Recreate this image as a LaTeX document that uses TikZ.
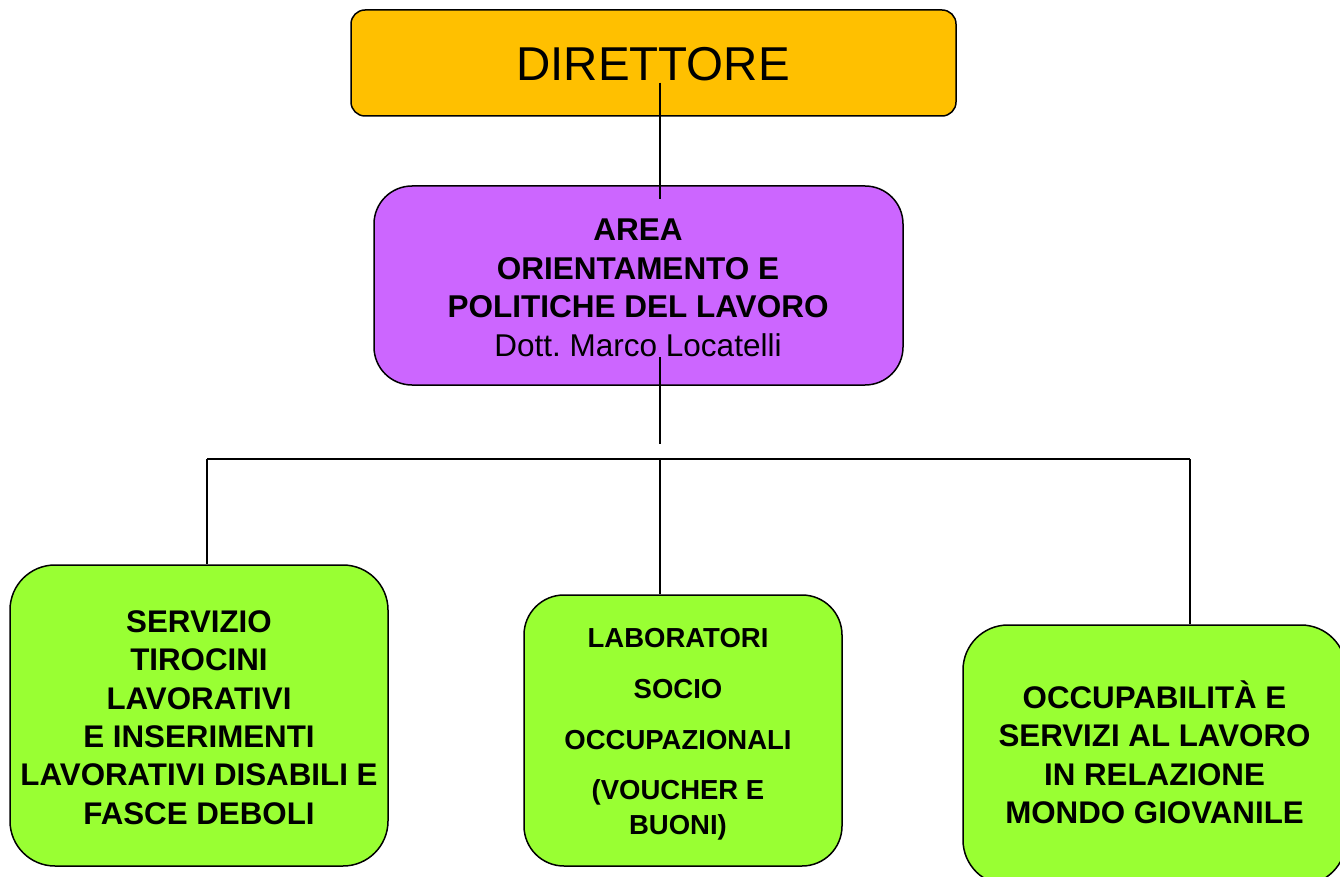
\documentclass[tikz,border=0pt]{standalone}
\usepackage{fontspec}
\setmainfont{Liberation Sans}
\definecolor{dirfill}{HTML}{FFC000}
\definecolor{areafill}{HTML}{CC66FF}
\definecolor{greenfill}{HTML}{99FF33}
\tikzset{
  orgbox/.style={draw=black, line width=1.5pt, inner sep=0pt},
  boxtext/.style={inner sep=0pt, align=center},
  conn/.style={draw=black, line width=1.5pt},
}
\frenchspacing
\begin{document}
\begin{tikzpicture}[x=1pt,y=-1pt]
\useasboundingbox (0,0) rectangle (1340,877);
% boxes
\node[orgbox, fill=dirfill, rounded corners=14pt, minimum width=605pt, minimum height=106pt] (dir) at (653.5,63) {};
\node[boxtext, font=\fontsize{47.5}{56}\selectfont] (dirtext) at (653,64) {DIRETTORE};
\node[orgbox, fill=areafill, rounded corners=38pt, minimum width=529pt, minimum height=199pt] (area) at (638.5,285.5) {};
\node[boxtext, font=\fontsize{31.5}{38.5}\selectfont] (areatext) at (638,288)
  {\textbf{AREA}\\\textbf{ORIENTAMENTO E}\\\textbf{POLITICHE DEL LAVORO}\\Dott. Marco Locatelli};
\node[orgbox, fill=greenfill, rounded corners=45pt, minimum width=378pt, minimum height=301pt] (left) at (199,715.5) {};
\node[boxtext, font=\bfseries\fontsize{31.3}{38.4}\selectfont] (lefttext) at (199,717.5)
  {SERVIZIO\\TIROCINI\\LAVORATIVI\\E INSERIMENTI\\LAVORATIVI DISABILI E\\FASCE DEBOLI};
\node[orgbox, fill=greenfill, rounded corners=40pt, minimum width=318pt, minimum height=271pt] (mid) at (683,730.5) {};
\node[boxtext, font=\bfseries\fontsize{27.5}{35}\selectfont] (midtext) at (678,734)
  {LABORATORI\\[16pt]SOCIO\\[16pt]OCCUPAZIONALI\\[15pt](VOUCHER E\\BUONI)};
\node[orgbox, fill=greenfill, rounded corners=45pt, minimum width=383pt, minimum height=260pt] (right) at (1154.5,755) {};
\node[boxtext, font=\bfseries\fontsize{31.3}{38.5}\selectfont] (righttext) at (1154.5,752.5)
  {OCCUPABILITÀ E\\SERVIZI AL LAVORO\\IN RELAZIONE\\MONDO GIOVANILE};
% connectors
\coordinate (gap) at (660,444);
\coordinate (busL) at (207,459);
\coordinate (busM) at (660,459);
\coordinate (busR) at (1190,459);
\draw[conn] ([xshift=6.5pt,yshift=34pt]dir.south) -- ([xshift=21.5pt,yshift=-14pt]area.north);
\draw[conn] ([xshift=21.5pt,yshift=29pt]area.south) -- (gap);
\draw[conn] (busL) -- (busR);
\draw[conn] (busL) -- (busL |- left.north);
\draw[conn] (busM) -- (busM |- mid.north);
\draw[conn] (busR) -- (busR |- right.north);
\end{tikzpicture}
\end{document}
